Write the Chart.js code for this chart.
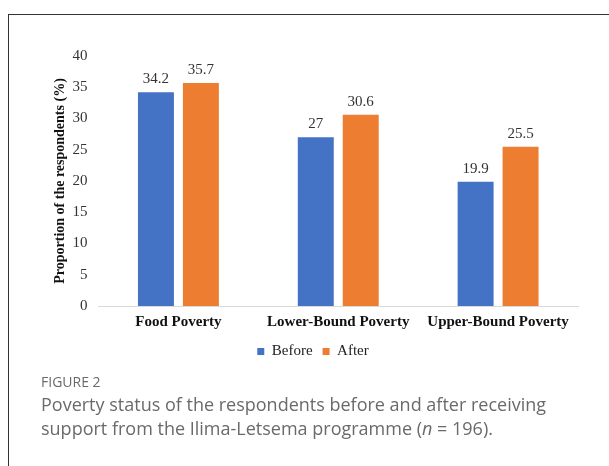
<!DOCTYPE html>
<html>
<head>
<meta charset="utf-8">
<script src="https://cdn.jsdelivr.net/npm/chart.js@4.4.1/dist/chart.umd.min.js"></script>
<style>
  body { margin: 0; background: #fff; }
  #frame { position: absolute; left: 8px; top: 14px; width: 601px; height: 452px;
           border-left: 1px solid #333; border-top: 1px solid #333; }
  #wrap { position: absolute; left: 0; top: 0; width: 609px; height: 375px; }
  #cap { position: absolute; left: 41px; top: 372px; font-family: "Open Sans", sans-serif; color: #6a6a6a; }
  #cap .fig { font-size: 14px; line-height: 20px; }
  #cap .txt { font-size: 18px; line-height: 24px; }
</style>
</head>
<body>
<div id="frame"></div>
<div id="wrap"><canvas id="c"></canvas></div>
<div id="cap">
  <div class="fig">FIGURE 2</div>
  <div class="txt">Poverty status of the respondents before and after receiving<br>support from the Ilima-Letsema programme (<i>n</i> = 196).</div>
</div>
<script>
const categories = ['Food Poverty', 'Lower-Bound Poverty', 'Upper-Bound Poverty'];
const before = [34.2, 27, 19.9];
const after = [35.7, 30.6, 25.5];

const serif = '"Liberation Serif", "Times New Roman", serif';

// value labels above each bar
const barLabels = {
  id: 'barLabels',
  afterDatasetsDraw(chart) {
    const ctx = chart.ctx;
    ctx.save();
    ctx.font = '15px ' + serif;
    ctx.fillStyle = '#333';
    ctx.textAlign = 'center';
    ctx.textBaseline = 'alphabetic';
    chart.data.datasets.forEach((ds, i) => {
      chart.getDatasetMeta(i).data.forEach((bar, j) => {
        ctx.fillText(String(ds.data[j]), bar.x, bar.y - 9);
      });
    });
    ctx.restore();
  }
};

new Chart(document.getElementById('c'), {
  type: 'bar',
  data: {
    labels: categories,
    datasets: [
      { label: 'Before', data: before, backgroundColor: '#4472C4' },
      { label: 'After', data: after, backgroundColor: '#ED7D31' }
    ]
  },
  options: {
    responsive: true,
    maintainAspectRatio: false,
    animation: false,
    datasets: { bar: { categoryPercentage: 0.5625, barPercentage: 0.8 } },
    layout: { padding: { left: 48, right: 31, top: 56, bottom: 6 } },
    plugins: {
      tooltip: { enabled: false },
      legend: {
        position: 'bottom',
        labels: {
          boxWidth: 7, boxHeight: 7, padding: 10,
          color: '#222',
          font: { family: serif, size: 15 }
        }
      }
    },
    scales: {
      x: {
        afterFit(s) { s.height -= 4; },
        grid: { display: false, drawTicks: false },
        border: { color: '#d9d9d9' },
        ticks: { color: '#111', padding: 7, font: { family: serif, size: 15, weight: 'bold' } }
      },
      y: {
        min: 0, max: 40,
        afterFit(s) { s.width = 50.5; },
        grid: { display: false, drawTicks: false },
        border: { display: false },
        ticks: { stepSize: 5, color: '#333', padding: 11, font: { family: serif, size: 15 } },
        title: {
          display: true, text: 'Proportion of the respondents (%)', color: '#111',
          font: { family: serif, size: 14, weight: 'bold' }
        }
      }
    }
  },
  plugins: [barLabels]
});
</script>
</body>
</html>
